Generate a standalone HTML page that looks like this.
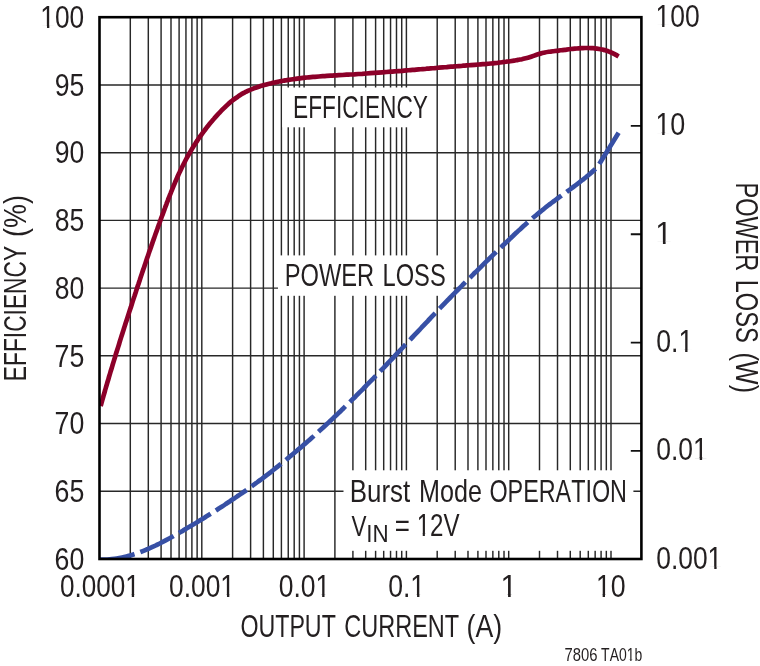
<!DOCTYPE html>
<html><head><meta charset="utf-8"><title>Efficiency and Power Loss vs Output Current</title>
<style>
html,body{margin:0;padding:0;background:#fff}
svg{display:block}
text{font-family:"Liberation Sans",sans-serif;fill:#231f20;font-kerning:none}
</style></head><body>
<svg width="760" height="666" viewBox="0 0 760 666">
<rect width="760" height="666" fill="#fff"/>
<path d="M130.30 17.2V559.0M148.31 17.2V559.0M161.09 17.2V559.0M171.00 17.2V559.0M179.10 17.2V559.0M185.95 17.2V559.0M191.89 17.2V559.0M197.12 17.2V559.0M201.80 17.2V559.0M232.60 17.2V559.0M250.61 17.2V559.0M263.39 17.2V559.0M273.30 17.2V559.0M281.40 17.2V559.0M288.25 17.2V559.0M294.19 17.2V559.0M299.42 17.2V559.0M304.10 17.2V559.0M334.90 17.2V559.0M352.91 17.2V559.0M365.69 17.2V559.0M375.60 17.2V559.0M383.70 17.2V559.0M390.55 17.2V559.0M396.49 17.2V559.0M401.72 17.2V559.0M406.40 17.2V559.0M437.20 17.2V559.0M455.21 17.2V559.0M467.99 17.2V559.0M477.90 17.2V559.0M486.00 17.2V559.0M492.85 17.2V559.0M498.79 17.2V559.0M504.02 17.2V559.0M508.70 17.2V559.0M539.50 17.2V559.0M557.51 17.2V559.0M570.29 17.2V559.0M580.20 17.2V559.0M588.30 17.2V559.0M595.15 17.2V559.0M601.09 17.2V559.0M606.32 17.2V559.0M611.00 17.2V559.0M99.5 491.27H641.4M99.5 423.55H641.4M99.5 355.83H641.4M99.5 288.10H641.4M99.5 220.38H641.4M99.5 152.65H641.4M99.5 84.93H641.4" stroke="#282828" stroke-width="1.45" fill="none"/>
<rect x="282.2" y="87.5" width="150" height="39.8" fill="#fff"/>
<rect x="278" y="255.4" width="175.4" height="40.4" fill="#fff"/>
<rect x="343.5" y="470.3" width="289.9" height="80.5" fill="#fff"/>
<path d="M630.80 450.94H641.4M630.80 342.58H641.4M630.80 234.22H641.4M630.80 125.86H641.4" stroke="#111" stroke-width="1.85" fill="none"/>
<clipPath id="plot"><rect x="99.5" y="17.2" width="541.90" height="541.80"/></clipPath>
<g clip-path="url(#plot)">
<path d="M100.6 406.1C100.8 405.5 101.4 403.5 101.7 402.2C102.1 400.9 102.5 399.6 102.8 398.4C103.2 397.1 103.5 395.8 103.9 394.5C104.3 393.2 104.7 391.9 105.0 390.6C105.4 389.4 105.8 388.1 106.1 386.8C106.5 385.5 106.9 384.3 107.2 383.0C107.6 381.7 108.0 380.4 108.4 379.2C108.7 377.9 109.1 376.6 109.5 375.3C109.9 374.1 110.3 372.8 110.6 371.5C111.0 370.3 111.4 369.0 111.8 367.7C112.2 366.5 112.5 365.2 112.9 363.9C113.3 362.7 113.7 361.4 114.1 360.1C114.5 358.9 114.9 357.6 115.2 356.4C115.6 355.1 116.0 353.8 116.4 352.6C116.8 351.3 117.2 350.0 117.6 348.8C118.0 347.5 118.4 346.3 118.8 345.0C119.2 343.7 119.5 342.5 119.9 341.2C120.3 340.0 120.7 338.7 121.1 337.4C121.5 336.2 121.9 334.9 122.3 333.7C122.7 332.4 123.1 331.1 123.5 329.9C123.9 328.6 124.3 327.4 124.7 326.1C125.1 324.8 125.5 323.6 125.9 322.3C126.4 321.1 126.8 319.8 127.2 318.5C127.6 317.3 128.0 316.0 128.4 314.7C128.8 313.5 129.2 312.2 129.6 310.9C130.0 309.7 130.4 308.4 130.9 307.1C131.3 305.8 131.7 304.6 132.1 303.3C132.5 302.0 132.9 300.8 133.3 299.5C133.8 298.2 134.2 296.9 134.6 295.7C135.0 294.4 135.4 293.1 135.9 291.8C136.3 290.5 136.7 289.3 137.1 288.0C137.5 286.7 138.0 285.4 138.4 284.2C138.8 282.9 139.2 281.6 139.7 280.3C140.1 279.0 140.5 277.8 140.9 276.5C141.4 275.2 141.8 273.9 142.2 272.6C142.7 271.4 143.1 270.1 143.5 268.8C144.0 267.5 144.4 266.2 144.8 265.0C145.3 263.7 145.7 262.4 146.1 261.1C146.6 259.9 147.0 258.6 147.4 257.3C147.9 256.0 148.3 254.7 148.7 253.5C149.2 252.2 149.6 250.9 150.1 249.6C150.5 248.4 150.9 247.1 151.4 245.8C151.8 244.6 152.3 243.3 152.7 242.0C153.2 240.7 153.6 239.5 154.1 238.2C154.5 236.9 155.0 235.7 155.4 234.4C155.9 233.1 156.3 231.9 156.8 230.6C157.2 229.3 157.7 228.1 158.1 226.8C158.6 225.6 159.0 224.3 159.5 223.0C159.9 221.8 160.4 220.5 160.8 219.3C161.3 218.0 161.7 216.8 162.2 215.5C162.7 214.3 163.1 213.0 163.6 211.8C164.0 210.5 164.5 209.3 165.0 208.0C165.4 206.8 165.9 205.6 166.4 204.3C166.8 203.1 167.3 201.9 167.8 200.6C168.2 199.4 168.7 198.2 169.2 196.9C169.7 195.7 170.1 194.5 170.6 193.3C171.1 192.0 171.6 190.8 172.1 189.6C172.6 188.4 173.1 187.2 173.6 186.0C174.1 184.7 174.6 183.5 175.1 182.3C175.6 181.1 176.2 179.9 176.7 178.7C177.2 177.5 177.7 176.3 178.3 175.1C178.8 173.9 179.4 172.8 179.9 171.6C180.5 170.4 181.1 169.2 181.6 168.0C182.2 166.8 182.8 165.7 183.4 164.5C184.0 163.3 184.6 162.2 185.2 161.0C185.8 159.8 186.4 158.7 187.0 157.5C187.7 156.3 188.3 155.2 189.0 154.0C189.6 152.9 190.3 151.8 191.0 150.6C191.6 149.5 192.3 148.3 193.0 147.2C193.7 146.1 194.4 144.9 195.2 143.8C195.9 142.7 196.6 141.6 197.4 140.5C198.1 139.4 198.9 138.2 199.6 137.1C200.4 136.0 201.2 135.0 202.0 133.9C202.8 132.8 203.6 131.7 204.4 130.6C205.2 129.5 206.0 128.5 206.8 127.4C207.7 126.4 208.5 125.3 209.3 124.3C210.2 123.2 211.0 122.2 211.9 121.2C212.8 120.1 213.7 119.1 214.5 118.1C215.4 117.1 216.3 116.1 217.2 115.1C218.1 114.1 219.0 113.1 220.0 112.2C220.9 111.2 221.8 110.2 222.8 109.3C223.7 108.3 224.7 107.4 225.7 106.5C226.6 105.5 227.6 104.6 228.6 103.7C229.6 102.8 230.7 102.0 231.7 101.1C232.7 100.3 233.8 99.4 234.8 98.7C235.9 97.9 237.0 97.1 238.1 96.4C239.2 95.6 240.3 94.9 241.4 94.2C242.5 93.6 243.7 92.9 244.9 92.3C246.0 91.7 247.2 91.2 248.4 90.6C249.6 90.1 250.8 89.6 252.1 89.1C253.3 88.6 254.5 88.1 255.8 87.7C257.0 87.3 258.3 86.8 259.6 86.4C260.9 86.0 262.1 85.7 263.4 85.3C264.7 84.9 266.0 84.6 267.3 84.2C268.6 83.9 269.9 83.6 271.2 83.3C272.5 82.9 273.9 82.6 275.2 82.4C276.5 82.1 277.8 81.8 279.1 81.5C280.5 81.3 281.8 81.0 283.1 80.8C284.5 80.6 285.8 80.3 287.1 80.1C288.5 79.9 289.8 79.7 291.1 79.5C292.4 79.3 293.8 79.1 295.1 78.9C296.4 78.7 297.8 78.6 299.1 78.4C300.4 78.2 301.7 78.1 303.1 77.9C304.4 77.8 305.7 77.6 307.0 77.5C308.3 77.4 309.6 77.2 311.0 77.1C312.3 77.0 313.6 76.9 314.9 76.8C316.2 76.7 317.5 76.6 318.9 76.5C320.2 76.4 321.5 76.3 322.8 76.2C324.1 76.1 325.4 76.0 326.7 75.9C328.1 75.8 329.4 75.7 330.7 75.6C332.0 75.6 333.3 75.5 334.6 75.4C335.9 75.3 337.2 75.3 338.6 75.2C339.9 75.1 341.2 75.0 342.5 75.0C343.8 74.9 345.1 74.8 346.5 74.7C347.8 74.7 349.1 74.6 350.4 74.5C351.7 74.4 353.1 74.3 354.4 74.3C355.7 74.2 357.0 74.1 358.4 74.0C359.7 73.9 361.0 73.8 362.3 73.8C363.7 73.7 365.0 73.6 366.3 73.5C367.7 73.4 369.0 73.3 370.3 73.2C371.7 73.1 373.0 73.0 374.3 72.9C375.7 72.8 377.0 72.7 378.3 72.6C379.7 72.5 381.0 72.4 382.3 72.3C383.7 72.2 385.0 72.1 386.4 72.0C387.7 71.9 389.0 71.8 390.4 71.7C391.7 71.6 393.1 71.5 394.4 71.4C395.7 71.3 397.1 71.2 398.4 71.1C399.8 71.0 401.1 70.9 402.4 70.8C403.8 70.6 405.1 70.5 406.5 70.4C407.8 70.3 409.2 70.2 410.5 70.1C411.8 70.0 413.2 69.9 414.5 69.8C415.9 69.6 417.2 69.5 418.6 69.4C419.9 69.3 421.3 69.2 422.6 69.1C423.9 69.0 425.3 68.9 426.6 68.7C428.0 68.6 429.3 68.5 430.7 68.4C432.0 68.3 433.4 68.2 434.7 68.1C436.0 67.9 437.4 67.8 438.7 67.7C440.1 67.6 441.4 67.5 442.7 67.4C444.1 67.3 445.4 67.2 446.8 67.1C448.1 66.9 449.4 66.8 450.8 66.7C452.1 66.6 453.5 66.5 454.8 66.4C456.1 66.3 457.5 66.2 458.8 66.1C460.1 66.0 461.5 65.9 462.8 65.7C464.1 65.6 465.5 65.5 466.8 65.4C468.1 65.3 469.5 65.2 470.8 65.1C472.1 65.0 473.4 64.9 474.8 64.8C476.1 64.7 477.4 64.6 478.8 64.5C480.1 64.4 481.4 64.3 482.7 64.2C484.0 64.1 485.4 64.0 486.7 63.9C488.0 63.7 489.3 63.6 490.6 63.5C491.9 63.4 493.3 63.3 494.6 63.1C495.9 63.0 497.2 62.9 498.5 62.7C499.8 62.6 501.1 62.4 502.4 62.2C503.7 62.1 505.0 61.9 506.3 61.7C507.6 61.6 508.9 61.4 510.2 61.2C511.5 61.0 512.8 60.8 514.1 60.6C515.4 60.4 516.7 60.1 518.0 59.9C519.3 59.7 520.6 59.4 521.9 59.2C523.1 58.9 524.4 58.6 525.7 58.3C527.0 58.0 528.3 57.7 529.5 57.3C530.8 56.9 532.1 56.4 533.4 55.9C534.7 55.4 535.9 54.9 537.2 54.5C538.5 54.1 539.8 53.7 541.1 53.4C542.4 53.0 543.6 52.8 544.9 52.5C546.2 52.2 547.5 52.0 548.8 51.8C550.1 51.6 551.4 51.5 552.7 51.3C554.0 51.1 555.3 51.0 556.7 50.8C558.0 50.6 559.3 50.5 560.6 50.3C562.0 50.1 563.3 50.0 564.7 49.8C566.0 49.6 567.4 49.5 568.7 49.3C570.0 49.1 571.4 49.0 572.8 48.8C574.1 48.7 575.5 48.6 576.8 48.5C578.2 48.4 579.5 48.3 580.9 48.2C582.2 48.1 583.6 48.1 584.9 48.0C586.2 48.0 587.6 48.0 588.9 48.0C590.2 48.1 591.6 48.1 592.9 48.2C594.2 48.3 595.5 48.5 596.8 48.6C598.1 48.8 599.4 49.0 600.7 49.3C602.0 49.5 603.3 49.8 604.5 50.1C605.8 50.5 607.1 50.9 608.3 51.3C609.5 51.8 610.8 52.3 612.0 52.8C613.2 53.4 614.4 54.0 615.5 54.6C616.7 55.3 618.1 56.2 618.6 56.5" stroke="#8c0029" stroke-width="4.7" fill="none"/>
<path d="M99.9 559.6C100.7 559.6 103.2 559.6 104.8 559.6C106.4 559.6 108.0 559.5 109.7 559.3C111.3 559.2 112.9 559.0 114.5 558.8C116.1 558.6 117.7 558.3 119.3 558.0C120.9 557.7 122.5 557.4 124.1 557.0C125.6 556.7 127.2 556.3 128.8 555.8C130.4 555.4 131.9 554.9 133.5 554.4C135.1 553.9 136.6 553.4 138.2 552.9C139.7 552.3 141.3 551.7 142.8 551.1C144.4 550.5 145.9 549.9 147.4 549.2C149.0 548.6 150.5 547.9 152.0 547.2C153.5 546.5 155.1 545.8 156.6 545.0C158.1 544.3 159.6 543.6 161.1 542.8C162.6 542.0 164.1 541.2 165.6 540.4C167.1 539.6 168.6 538.8 170.1 538.0C171.6 537.2 173.0 536.4 174.5 535.5C176.0 534.7 177.5 533.8 178.9 533.0C180.4 532.1 181.9 531.3 183.3 530.4C184.8 529.6 186.2 528.7 187.7 527.8C189.1 527.0 190.6 526.1 192.0 525.3C193.5 524.4 194.9 523.5 196.3 522.7C197.8 521.8 199.2 520.9 200.6 520.0C202.0 519.2 203.5 518.3 204.9 517.4C206.3 516.5 207.7 515.7 209.1 514.8C210.5 513.9 211.9 513.0 213.3 512.1C214.7 511.2 216.1 510.3 217.5 509.4C218.9 508.6 220.3 507.7 221.7 506.8C223.1 505.9 224.5 505.0 225.8 504.0C227.2 503.1 228.6 502.2 230.0 501.3C231.3 500.4 232.7 499.5 234.1 498.6C235.4 497.6 236.8 496.7 238.1 495.8C239.5 494.9 240.9 493.9 242.2 493.0C243.6 492.1 244.9 491.1 246.2 490.2C247.6 489.2 248.9 488.3 250.3 487.3C251.6 486.4 252.9 485.4 254.3 484.4C255.6 483.5 256.9 482.5 258.2 481.5C259.6 480.5 260.9 479.5 262.2 478.6C263.5 477.6 264.8 476.6 266.1 475.6C267.5 474.6 268.8 473.6 270.1 472.6C271.4 471.6 272.7 470.5 274.0 469.5C275.3 468.5 276.6 467.5 277.9 466.4C279.2 465.4 280.5 464.4 281.7 463.3C283.0 462.3 284.3 461.2 285.6 460.2C286.9 459.1 288.2 458.1 289.4 457.0C290.7 456.0 292.0 454.9 293.3 453.8C294.5 452.8 295.8 451.7 297.1 450.6C298.3 449.5 299.6 448.4 300.9 447.4C302.1 446.3 303.4 445.2 304.6 444.1C305.9 443.0 307.1 441.9 308.4 440.8C309.6 439.7 310.9 438.6 312.1 437.5C313.4 436.4 314.6 435.2 315.8 434.1C317.1 433.0 318.3 431.9 319.5 430.8C320.8 429.6 322.0 428.5 323.2 427.4C324.5 426.2 325.7 425.1 326.9 424.0C328.1 422.8 329.4 421.7 330.6 420.6C331.8 419.4 333.0 418.3 334.2 417.1C335.4 416.0 336.6 414.8 337.9 413.7C339.1 412.5 340.3 411.3 341.5 410.2C342.7 409.0 343.9 407.9 345.1 406.7C346.3 405.5 347.5 404.4 348.7 403.2C349.8 402.0 351.0 400.9 352.2 399.7C353.4 398.5 354.6 397.3 355.8 396.2C357.0 395.0 358.1 393.8 359.3 392.6C360.5 391.4 361.7 390.3 362.9 389.1C364.0 387.9 365.2 386.7 366.4 385.5C367.5 384.3 368.7 383.1 369.9 381.9C371.0 380.8 372.2 379.6 373.4 378.4C374.5 377.2 375.7 376.0 376.8 374.8C378.0 373.6 379.2 372.4 380.3 371.2C381.5 370.0 382.6 368.8 383.8 367.6C384.9 366.4 386.0 365.2 387.2 364.0C388.3 362.8 389.5 361.6 390.6 360.4C391.8 359.2 392.9 358.0 394.0 356.8C395.2 355.6 396.3 354.4 397.4 353.2C398.6 352.0 399.7 350.8 400.8 349.6C402.0 348.4 403.1 347.2 404.2 346.0C405.4 344.8 406.5 343.6 407.6 342.4C408.8 341.2 409.9 340.0 411.0 338.8C412.1 337.6 413.3 336.4 414.4 335.2C415.5 334.0 416.7 332.8 417.8 331.6C418.9 330.4 420.1 329.2 421.2 328.0C422.3 326.8 423.5 325.6 424.6 324.4C425.7 323.2 426.9 322.0 428.0 320.8C429.1 319.6 430.3 318.4 431.4 317.2C432.5 316.0 433.7 314.8 434.8 313.6C436.0 312.4 437.1 311.2 438.2 310.0C439.4 308.8 440.5 307.6 441.7 306.4C442.8 305.2 444.0 304.0 445.1 302.8C446.3 301.6 447.4 300.4 448.6 299.3C449.8 298.1 450.9 296.9 452.1 295.7C453.2 294.5 454.4 293.3 455.6 292.1C456.8 290.9 457.9 289.7 459.1 288.5C460.3 287.3 461.5 286.2 462.6 285.0C463.8 283.8 465.0 282.6 466.2 281.4C467.4 280.2 468.6 279.0 469.8 277.9C470.9 276.7 472.1 275.5 473.3 274.3C474.5 273.1 475.7 272.0 476.9 270.8C478.1 269.6 479.3 268.4 480.5 267.3C481.7 266.1 482.9 264.9 484.1 263.7C485.3 262.6 486.5 261.4 487.7 260.2C488.9 259.1 490.1 257.9 491.3 256.7C492.5 255.6 493.7 254.4 494.9 253.2C496.1 252.1 497.3 250.9 498.5 249.8C499.7 248.6 500.9 247.4 502.1 246.3C503.3 245.1 504.5 244.0 505.7 242.8C506.9 241.7 508.1 240.5 509.3 239.4C510.5 238.2 511.7 237.1 512.9 236.0C514.1 234.8 515.3 233.7 516.5 232.6C517.7 231.4 518.9 230.3 520.2 229.2C521.4 228.1 522.6 226.9 523.8 225.8C525.0 224.7 526.3 223.6 527.5 222.5C528.7 221.4 530.0 220.4 531.2 219.3C532.5 218.2 533.7 217.1 535.0 216.1C536.3 215.0 537.6 214.0 538.8 212.9C540.1 211.9 541.4 210.8 542.7 209.8C544.0 208.8 545.3 207.7 546.6 206.7C547.9 205.7 549.3 204.7 550.6 203.7C551.9 202.7 553.3 201.7 554.6 200.7C555.9 199.7 557.3 198.7 558.6 197.7C560.0 196.7 561.3 195.7 562.7 194.7C564.0 193.8 565.4 192.8 566.7 191.8C568.1 190.8 569.4 189.8 570.8 188.8C572.1 187.9 573.5 186.9 574.8 185.9C576.2 184.9 577.5 183.9 578.8 182.9C580.1 181.9 581.4 180.9 582.7 179.8C584.0 178.8 585.3 177.8 586.6 176.7C587.9 175.7 589.1 174.6 590.4 173.5C591.6 172.5 592.8 171.4 594.0 170.3C595.2 169.2 596.9 167.4 597.5 166.9L618.6 132.7" stroke="#3750a5" stroke-width="4.7" fill="none" stroke-dasharray="36.985 6.2" stroke-dashoffset="1.8"/>
</g>
<rect x="99.5" y="17.2" width="541.90" height="541.80" fill="none" stroke="#000" stroke-width="2.6"/>
<g transform="translate(54.54,569.70) scale(0.8558,1)"><text font-size="31.20" >60</text></g>
<g transform="translate(54.54,501.97) scale(0.8582,1)"><text font-size="31.20" >65</text></g>
<g transform="translate(54.53,434.25) scale(0.8562,1)"><text font-size="31.20" >70</text></g>
<g transform="translate(54.53,366.53) scale(0.8586,1)"><text font-size="31.20" >75</text></g>
<g transform="translate(54.75,298.80) scale(0.8497,1)"><text font-size="31.20" >80</text></g>
<g transform="translate(54.74,231.07) scale(0.8521,1)"><text font-size="31.20" >85</text></g>
<g transform="translate(54.65,163.35) scale(0.8525,1)"><text font-size="31.20" >90</text></g>
<g transform="translate(54.65,95.63) scale(0.8550,1)"><text font-size="31.20" >95</text></g>
<g transform="translate(40.37,27.90) scale(0.8425,1)"><text font-size="31.20" >100</text><rect x="0.88" y="-2.33" width="6.97" height="2.83" fill="#fff"/><rect x="10.60" y="-2.33" width="6.83" height="2.83" fill="#fff"/><rect x="0.88" y="-4.23" width="6.08" height="2.1" fill="#fff"/><rect x="11.49" y="-4.23" width="5.94" height="2.1" fill="#fff"/></g>
<g transform="translate(59.88,597.30) scale(0.8369,1)"><text font-size="31.20" >0.0001</text><rect x="78.95" y="-2.33" width="6.97" height="2.83" fill="#fff"/><rect x="88.68" y="-2.33" width="6.83" height="2.83" fill="#fff"/><rect x="78.95" y="-4.23" width="6.07" height="2.1" fill="#fff"/><rect x="89.58" y="-4.23" width="5.93" height="2.1" fill="#fff"/></g>
<g transform="translate(169.07,597.30) scale(0.8444,1)"><text font-size="31.20" >0.001</text><rect x="61.60" y="-2.33" width="6.97" height="2.83" fill="#fff"/><rect x="71.33" y="-2.33" width="6.83" height="2.83" fill="#fff"/><rect x="61.60" y="-4.23" width="6.08" height="2.1" fill="#fff"/><rect x="72.22" y="-4.23" width="5.94" height="2.1" fill="#fff"/></g>
<g transform="translate(278.67,597.30) scale(0.8492,1)"><text font-size="31.20" >0.01</text><rect x="44.25" y="-2.33" width="6.97" height="2.83" fill="#fff"/><rect x="53.98" y="-2.33" width="6.83" height="2.83" fill="#fff"/><rect x="44.25" y="-4.23" width="6.09" height="2.1" fill="#fff"/><rect x="54.86" y="-4.23" width="5.94" height="2.1" fill="#fff"/></g>
<g transform="translate(388.16,597.30) scale(0.8530,1)"><text font-size="31.20" >0.1</text><rect x="26.90" y="-2.33" width="6.97" height="2.83" fill="#fff"/><rect x="36.62" y="-2.33" width="6.83" height="2.83" fill="#fff"/><rect x="26.90" y="-4.23" width="6.09" height="2.1" fill="#fff"/><rect x="37.50" y="-4.23" width="5.95" height="2.1" fill="#fff"/></g>
<g transform="translate(500.52,597.30) scale(0.9603,1)"><text font-size="31.20" >1</text><rect x="0.88" y="-2.33" width="6.97" height="2.83" fill="#fff"/><rect x="10.60" y="-2.33" width="6.83" height="2.83" fill="#fff"/><rect x="0.88" y="-4.23" width="6.19" height="2.1" fill="#fff"/><rect x="11.38" y="-4.23" width="6.04" height="2.1" fill="#fff"/></g>
<g transform="translate(595.93,597.30) scale(0.8562,1)"><text font-size="31.20" >10</text><rect x="0.88" y="-2.33" width="6.97" height="2.83" fill="#fff"/><rect x="10.60" y="-2.33" width="6.83" height="2.83" fill="#fff"/><rect x="0.88" y="-4.23" width="6.09" height="2.1" fill="#fff"/><rect x="11.48" y="-4.23" width="5.95" height="2.1" fill="#fff"/></g>
<g transform="translate(655.45,27.00) scale(0.8487,1)"><text font-size="31.20" >100</text><rect x="0.88" y="-2.33" width="6.97" height="2.83" fill="#fff"/><rect x="10.60" y="-2.33" width="6.83" height="2.83" fill="#fff"/><rect x="0.88" y="-4.23" width="6.09" height="2.1" fill="#fff"/><rect x="11.49" y="-4.23" width="5.94" height="2.1" fill="#fff"/></g>
<g transform="translate(655.41,135.36) scale(0.8627,1)"><text font-size="31.20" >10</text><rect x="0.88" y="-2.33" width="6.97" height="2.83" fill="#fff"/><rect x="10.60" y="-2.33" width="6.83" height="2.83" fill="#fff"/><rect x="0.88" y="-4.23" width="6.10" height="2.1" fill="#fff"/><rect x="11.47" y="-4.23" width="5.96" height="2.1" fill="#fff"/></g>
<g transform="translate(655.28,243.72) scale(0.9734,1)"><text font-size="31.20" >1</text><rect x="0.88" y="-2.33" width="6.97" height="2.83" fill="#fff"/><rect x="10.60" y="-2.33" width="6.83" height="2.83" fill="#fff"/><rect x="0.88" y="-4.23" width="6.20" height="2.1" fill="#fff"/><rect x="11.37" y="-4.23" width="6.05" height="2.1" fill="#fff"/></g>
<g transform="translate(656.26,352.08) scale(0.8530,1)"><text font-size="31.20" >0.1</text><rect x="26.90" y="-2.33" width="6.97" height="2.83" fill="#fff"/><rect x="36.62" y="-2.33" width="6.83" height="2.83" fill="#fff"/><rect x="26.90" y="-4.23" width="6.09" height="2.1" fill="#fff"/><rect x="37.50" y="-4.23" width="5.95" height="2.1" fill="#fff"/></g>
<g transform="translate(656.27,460.44) scale(0.8492,1)"><text font-size="31.20" >0.01</text><rect x="44.25" y="-2.33" width="6.97" height="2.83" fill="#fff"/><rect x="53.98" y="-2.33" width="6.83" height="2.83" fill="#fff"/><rect x="44.25" y="-4.23" width="6.09" height="2.1" fill="#fff"/><rect x="54.86" y="-4.23" width="5.94" height="2.1" fill="#fff"/></g>
<g transform="translate(656.27,568.80) scale(0.8458,1)"><text font-size="31.20" >0.001</text><rect x="61.60" y="-2.33" width="6.97" height="2.83" fill="#fff"/><rect x="71.33" y="-2.33" width="6.83" height="2.83" fill="#fff"/><rect x="61.60" y="-4.23" width="6.08" height="2.1" fill="#fff"/><rect x="72.21" y="-4.23" width="5.94" height="2.1" fill="#fff"/></g>
<g transform="translate(293.04,117.90) scale(0.7323,1)"><text font-size="31.00" >EFFICIENCY</text></g>
<g transform="translate(284.76,286.10) scale(0.7637,1)"><text font-size="31.00" >POWER</text></g>
<g transform="translate(382.56,286.10) scale(0.7633,1)"><text font-size="31.00" >LOSS</text></g>
<g transform="translate(349.77,502.20) scale(0.8473,1)"><text font-size="30.60" >Burst</text></g>
<g transform="translate(418.93,502.20) scale(0.8228,1)"><text font-size="30.60" >Mode</text></g>
<g transform="translate(489.39,502.20) scale(0.7636,1)"><text font-size="30.60" >OPERATION</text></g>
<g transform="translate(351.40,536.10) scale(0.7495,1)"><text font-size="30.00" >V</text></g>
<g transform="translate(366.23,542.00) scale(0.9529,1)"><text font-size="23.50" >IN</text></g>
<g transform="translate(394.63,536.10) scale(0.8475,1)"><text font-size="30.60" >=</text></g>
<g transform="translate(416.68,536.10) scale(0.7884,1)"><text font-size="30.60" >12V</text><rect x="0.83" y="-2.29" width="6.86" height="2.79" fill="#fff"/><rect x="10.40" y="-2.29" width="6.72" height="2.79" fill="#fff"/><rect x="0.83" y="-4.19" width="5.91" height="2.1" fill="#fff"/><rect x="11.35" y="-4.19" width="5.77" height="2.1" fill="#fff"/></g>
<g transform="translate(240.40,636.60) scale(0.7537,1)"><text font-size="30.80" >OUTPUT</text></g>
<g transform="translate(344.31,636.60) scale(0.7633,1)"><text font-size="30.80" >CURRENT</text></g>
<g transform="translate(466.54,636.60) scale(0.8674,1)"><text font-size="30.80" >(A)</text></g>
<g transform="translate(564.54,661.10) scale(0.8244,1)"><text font-size="18.00" >7806</text></g>
<g transform="translate(601.09,661.10) scale(0.7769,1)"><text font-size="18.00" >TA01b</text><rect x="32.88" y="-1.34" width="4.66" height="1.84" fill="#fff"/><rect x="39.13" y="-1.34" width="4.61" height="1.84" fill="#fff"/><rect x="32.88" y="-3.24" width="3.69" height="2.1" fill="#fff"/><rect x="40.09" y="-3.24" width="3.65" height="2.1" fill="#fff"/></g>
<g transform="rotate(-90) translate(-381.17,26.30) scale(0.7441,1)"><text font-size="30.60" >EFFICIENCY</text></g>
<g transform="rotate(-90) translate(-236.97,26.30) scale(0.8791,1)"><text font-size="30.60" >(%)</text></g>
<g transform="rotate(90) translate(182.47,-735.60) scale(0.7692,1)"><text font-size="30.60" >POWER</text></g>
<g transform="rotate(90) translate(279.66,-735.60) scale(0.7732,1)"><text font-size="30.60" >LOSS</text></g>
<g transform="rotate(90) translate(352.43,-735.60) scale(0.8270,1)"><text font-size="30.60" >(W)</text></g>
</svg>
</body></html>
